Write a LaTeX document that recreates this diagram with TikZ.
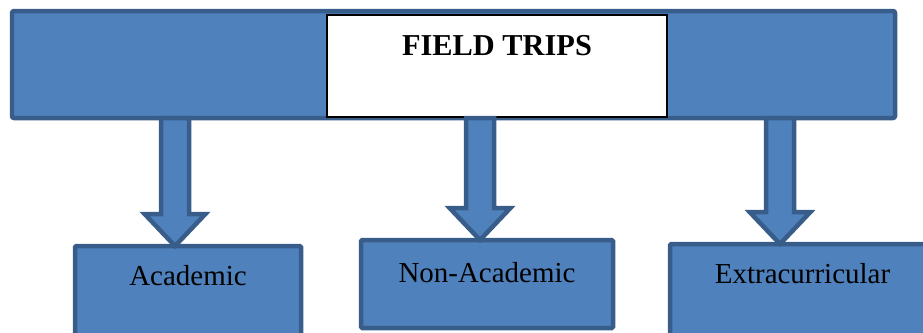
\documentclass[tikz,border=0pt]{standalone}
\usepackage{fontspec}
\setmainfont{Liberation Serif}
\usepackage{tikz}
\usetikzlibrary{positioning, calc}
\definecolor{tripFill}{HTML}{4F81BD}
\definecolor{tripEdge}{HTML}{385D8A}

\begin{document}
\begin{tikzpicture}[
  bannerbar/.style={
    rectangle, rounded corners=1.5pt,
    draw=tripEdge, line width=3.2pt, fill=tripFill,
    inner sep=0pt, outer sep=0pt,
    minimum width=22.075cm, minimum height=2.675cm
  },
  titlebox/.style={
    rectangle, draw=black, line width=1pt, fill=white,
    inner sep=0pt, outer sep=0pt, minimum width=8.5cm,
    text height=1cm, text depth=1.55cm,
    font=\fontsize{21.6}{24}\selectfont\bfseries
  },
  kindbox/.style={
    rectangle, rounded corners=1pt,
    draw=tripEdge, line width=3.2pt, fill=tripFill,
    inner sep=0pt, outer sep=0pt, anchor=north,
    minimum width=#1,
    font=\fontsize{20.6}{24}\selectfont
  },
  blockarrow/.style={
    draw=tripEdge, line width=3.2pt, fill=tripFill, line join=miter
  },
]
\useasboundingbox (0,0) rectangle (23.075,8.3);
\clip (0,0) rectangle (23.075,8.3);

% === Top banner ===
\node[bannerbar] (bar) at (11.3375,6.6875) {};
\node[titlebox] (title) at (12.425,6.65) {FIELD TRIPS};

% === Kinds of trips ===
\node[kindbox=5.65cm, text height=0.975cm, text depth=1.875cm]
  (academic) at (4.7,2.15) {Academic};
\node[kindbox=6.3cm, text height=1.05cm, text depth=1.15cm]
  (nonacademic) at (12.175,2.3) {Non-Academic};
\node[kindbox=6.625cm, text height=0.975cm, text depth=1.925cm]
  (extra) at (20.0625,2.2) {Extracurricular};

% === Block arrows ===
\foreach \x/\b in {4.375/academic, 12.0/nonacademic, 19.5/extra} {
  \coordinate (tail) at (\x,0 |- bar.south);
  \coordinate (tip) at (\x,0 |- \b.north);
  \draw[blockarrow]
    ([xshift=-0.35cm]tail) -- ([xshift=-0.35cm, yshift=0.8cm]tip)
    -- ([xshift=-0.76cm, yshift=0.8cm]tip) -- (tip)
    -- ([xshift=0.76cm, yshift=0.8cm]tip) -- ([xshift=0.35cm, yshift=0.8cm]tip)
    -- ([xshift=0.35cm]tail) -- cycle;
}

\end{tikzpicture}
\end{document}
